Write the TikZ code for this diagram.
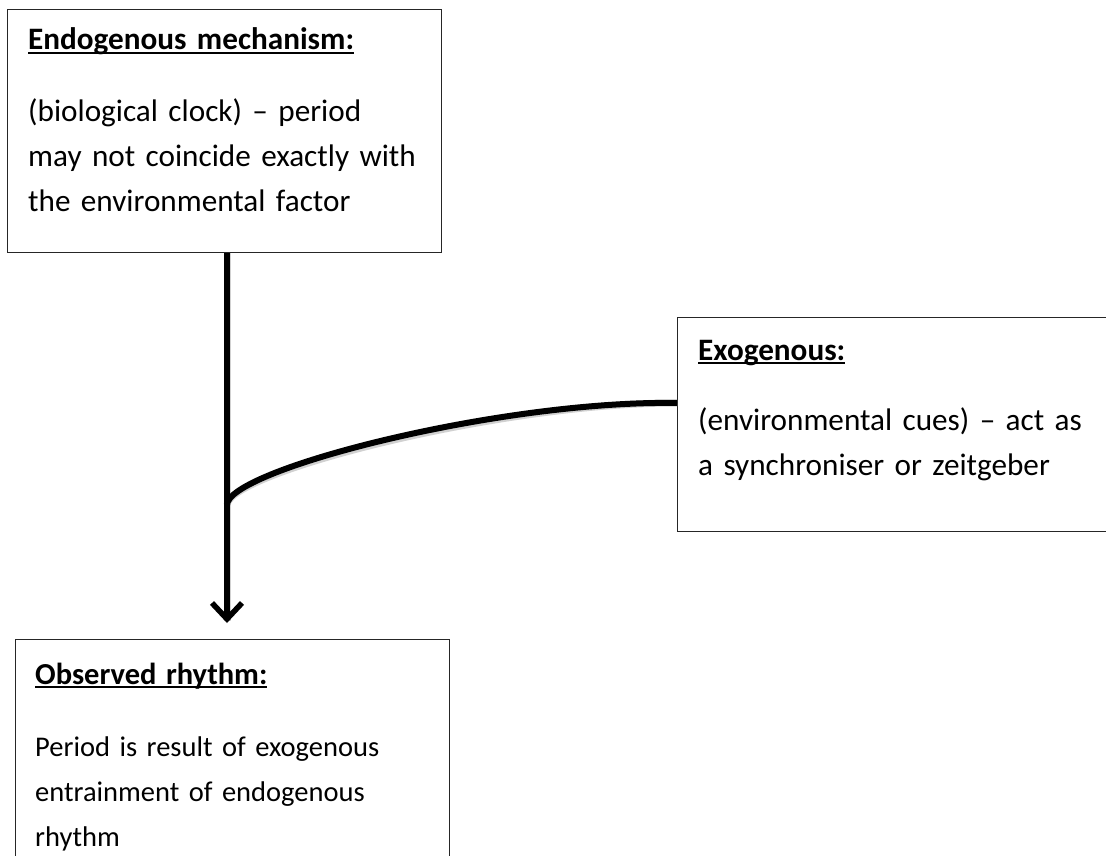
\documentclass[tikz,border=0pt]{standalone}
\usepackage{fontspec}
\setmainfont{Carlito}
\usetikzlibrary{arrows.meta,calc}
\newcommand\hdul[1]{\setbox0=\hbox{\bfseries #1}\rlap{\rule[-4pt]{\wd0}{2.2pt}}\box0}
\tikzset{
  box/.style={draw=black!85, line width=1.4pt, fill=none, anchor=north west, inner sep=0pt},
  txt/.style={anchor=base west, inner sep=0pt, text width=440pt, align=left,
    font=\fontsize{31.2}{45}\selectfont},
  txtsmall/.style={txt, font=\fontsize{28.5}{45}\selectfont},
  conn/.style={line width=6pt, black},
  shade/.style={line width=7pt, black!18},
  tip/.style={-{Straight Barb[length=16pt,width=30pt,line width=5.5pt]}}
}
\begin{document}
\begin{tikzpicture}[x=1pt,y=1pt]
\useasboundingbox (0,0) rectangle (1106,-856);
\clip (0,0) rectangle (1106,-856);
\fill[white] (0,0) rectangle (1106,-856);
% boxes
\node[box, minimum width=434pt, minimum height=243pt] (endo) at (7,-9) {};
\node[box, minimum width=450pt, minimum height=214pt] (exo) at (677,-317) {};
\node[box, minimum width=434pt, minimum height=240pt] (obs) at (15,-639) {};
% texts
\node[txt] (endoT) at (28,-50) {\hdul{Endogenous mechanism:}\\[27pt]
(biological clock) – period\\ may not coincide exactly with\\ the environmental factor};
\node[txt] (exoT) at (698,-360) {\hdul{Exogenous:}\\[25pt]
(environmental cues) – act as\\ a synchroniser or zeitgeber};
\node[txtsmall] (obsT) at (35,-684) {{\fontsize{30.5}{45}\selectfont\hdul{Observed rhythm:}}\\[27pt]
Period is result of exogenous\\ entrainment of endogenous\\ rhythm};
% connectors
\coordinate (j) at (227,-505);
\coordinate (e) at (677,-403);
\begin{scope}[shift={(1.5pt,-2.5pt)}]
\draw[shade] (j |- endo.south) -- ($(j |- obs.north)+(0,18)$);
\draw[shade] (e) .. controls (500,-400) and (227,-470) .. (j);
\end{scope}
\draw[conn, tip, shorten >=16pt] (j |- endo.south) -- (j |- obs.north);
\draw[conn] (e) .. controls (500,-400) and (227,-470) .. (j);
\end{tikzpicture}
\end{document}
